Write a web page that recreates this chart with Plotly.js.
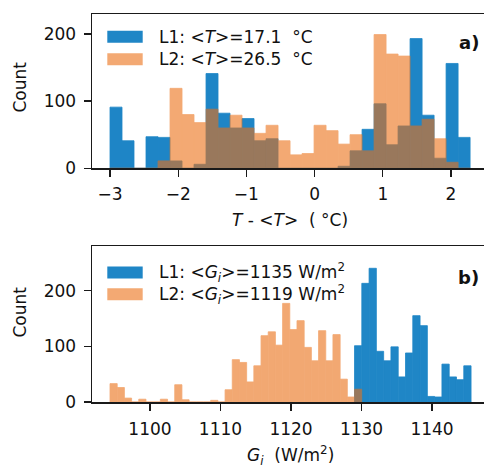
<!DOCTYPE html>
<html>
<head>
<meta charset="utf-8">
<script src="https://cdn.plot.ly/plotly-3.0.1.min.js"></script>
<style>html,body{margin:0;padding:0;background:#fff;}#chart{width:484px;height:467px;}</style>
</head>
<body>
<div id="chart"></div>
<script>
// ---- Panel a): temperature deviation histograms ----
const tBinCenters = [-2.912, -2.736, -2.560, -2.384, -2.208, -2.032, -1.856, -1.680, -1.504, -1.328,
                     -1.152, -0.976, -0.800, -0.624, -0.448, -0.272, -0.096, 0.080, 0.256, 0.432,
                     0.608, 0.784, 0.960, 1.136, 1.312, 1.488, 1.664, 1.840, 2.016, 2.192];
const tCountsL1 = [91, 41, 0, 47, 46, 11, 0, 6, 141, 82,
                   60, 74, 41, 44, 0, 0, 0, 0, 0, 3,
                   26, 58, 96, 35, 63, 193, 79, 15, 156, 46];
const tCountsL2 = [0, 0, 0, 0, 11, 119, 80, 68, 88, 60,
                   79, 60, 52, 64, 41, 20, 22, 64, 56, 36,
                   50, 26, 199, 170, 167, 63, 73, 44, 9, 0];
const tTicks = [-3, -2, -1, 0, 1, 2];

// ---- Panel b): irradiance histograms ----
const gBinCentersL1 = [1129.5238, 1130.5568, 1131.5898, 1132.6228, 1133.6558, 1134.6888, 1135.7218, 1136.7548,
                       1137.7878, 1138.8208, 1139.8538, 1140.8868, 1141.9198, 1142.9528, 1143.9858, 1145.0188];
const gCountsL1 = [101, 213, 240, 91, 74, 99, 45, 88, 155, 137, 10, 9, 68, 45, 40, 65];
const gBinCentersL2 = [1094.8440, 1095.8638, 1096.8836, 1097.9034, 1098.9232, 1099.9430, 1100.9628, 1101.9826,
                       1103.0024, 1104.0222, 1105.0420, 1106.0618, 1107.0816, 1108.1014, 1109.1212, 1110.1410,
                       1111.1608, 1112.1806, 1113.2004, 1114.2202, 1115.2400, 1116.2598, 1117.2796, 1118.2994,
                       1119.3192, 1120.3390, 1121.3588, 1122.3786, 1123.3984, 1124.4182, 1125.4380, 1126.4578,
                       1127.4776, 1128.4974, 1129.5172];
const gCountsL2 = [33, 26, 7, 0, 5, 0, 0, 5, 0, 31, 4, 0, 0, 0, 3, 0, 22, 76, 71, 36,
                   65, 119, 126, 102, 177, 130, 146, 98, 74, 128, 74, 121, 41, 9, 23];
const gTicks = [1100, 1110, 1120, 1130, 1140];
const countTicks = [0, 100, 200];

const legendA = ['L1: &lt;<i>T</i>&gt;=17.1\u00a0 \u00b0C', 'L2: &lt;<i>T</i>&gt;=26.5\u00a0 \u00b0C'];
const legendB = ['L1: &lt;<i>G</i><sub><i>i</i></sub>&gt;=1135 W/m<sup>2</sup>',
                 'L2: &lt;<i>G</i><sub><i>i</i></sub>&gt;=1119 W/m<sup>2</sup>'];

const BLUE = '#1f86c6';
const ORANGE_SOLID = 'rgb(235,112,22)';
const ORANGE_ALPHA = 0.6;
const ORANGE = 'rgba(235,112,22,0.6)';
const FONT = 'DejaVu Sans';

const traces = [
  {type: 'bar', x: tBinCenters, y: tCountsL1, width: 0.176, xaxis: 'x', yaxis: 'y',
   marker: {color: BLUE, line: {width: 0.8, color: BLUE}}, showlegend: false, hoverinfo: 'skip'},
  {type: 'bar', x: tBinCenters, y: tCountsL2, width: 0.176, xaxis: 'x', yaxis: 'y',
   opacity: ORANGE_ALPHA,
   marker: {color: ORANGE_SOLID, line: {width: 0.8, color: ORANGE_SOLID}}, showlegend: false, hoverinfo: 'skip'},
  {type: 'bar', x: gBinCentersL1, y: gCountsL1, width: 1.033, xaxis: 'x2', yaxis: 'y2',
   marker: {color: BLUE, line: {width: 0.8, color: BLUE}}, showlegend: false, hoverinfo: 'skip'},
  {type: 'bar', x: gBinCentersL2, y: gCountsL2, width: 1.0198, xaxis: 'x2', yaxis: 'y2',
   opacity: ORANGE_ALPHA,
   marker: {color: ORANGE_SOLID, line: {width: 0.8, color: ORANGE_SOLID}}, showlegend: false, hoverinfo: 'skip'}
];

const axisCommon = {
  showline: true, linecolor: '#1a1a1a', linewidth: 1.5,
  ticks: 'outside', ticklen: 7, tickwidth: 1.4, tickcolor: '#1a1a1a',
  showgrid: false, zeroline: false,
  tickfont: {family: FONT, size: 17, color: '#111'}
};

// pixel -> paper helpers for annotation/legend placement
const PT = 14, PB = 402, PL = 92, PR = 484;
const py = p => (PB - p) / (PB - PT);
const px = p => (p - PL) / (PR - PL);

const shapes = [];
const annotations = [];
function legendRow(yc, color, text) {
  shapes.push({type: 'rect', xref: 'paper', yref: 'paper', x0: px(107.3), x1: px(142.7),
               y0: py(yc - 6), y1: py(yc + 6), fillcolor: color, line: {width: 0}});
  annotations.push({xref: 'paper', yref: 'paper', x: px(156.5), y: py(yc), xanchor: 'left',
                    yanchor: 'middle', text: text, showarrow: false,
                    font: {family: FONT, size: 17, color: '#111'}});
}
legendRow(36.7, BLUE, legendA[0]);
legendRow(59.2, ORANGE, legendA[1]);
legendRow(272.5, BLUE, legendB[0]);
legendRow(294.2, ORANGE, legendB[1]);

annotations.push(
  {xref: 'paper', yref: 'paper', x: px(481), y: py(43), xanchor: 'right', yanchor: 'middle',
   text: '<b>a)</b>', showarrow: false, font: {family: FONT, size: 18, color: '#111'}},
  {xref: 'paper', yref: 'paper', x: px(481), y: py(277), xanchor: 'right', yanchor: 'middle',
   text: '<b>b)</b>', showarrow: false, font: {family: FONT, size: 18, color: '#111'}},
  {xref: 'paper', yref: 'paper', x: px(19), y: py(87.5), xanchor: 'center', yanchor: 'middle',
   text: 'Count', textangle: -90, showarrow: false, font: {family: FONT, size: 17, color: '#111'}},
  {xref: 'paper', yref: 'paper', x: px(19), y: py(312.5), xanchor: 'center', yanchor: 'middle',
   text: 'Count', textangle: -90, showarrow: false, font: {family: FONT, size: 17, color: '#111'}},
  {xref: 'paper', yref: 'paper', x: px(290), y: py(220), xanchor: 'center', yanchor: 'middle',
   text: '<i>T</i> - &lt;<i>T</i>&gt;\u00a0 (\u00a0\u00b0C)', showarrow: false,
   font: {family: FONT, size: 17, color: '#111'}},
  {xref: 'paper', yref: 'paper', x: px(290), y: py(455), xanchor: 'center', yanchor: 'middle',
   text: '<i>G</i><sub><i>i</i></sub>\u00a0 (W/m<sup>2</sup>)', showarrow: false,
   font: {family: FONT, size: 17, color: '#111'}}
);

const layout = {
  width: 484, height: 467,
  margin: {l: PL, r: 0, t: PT, b: 467 - PB},
  paper_bgcolor: '#fff', plot_bgcolor: '#fff',
  barmode: 'overlay', bargap: 0, bargroupgap: 0, showlegend: false,
  font: {family: FONT, size: 17, color: '#111'},
  xaxis: Object.assign({}, axisCommon, {anchor: 'y', domain: [0, 1], range: [-3.264, 2.484],
                        tickvals: tTicks, mirror: true, ticklabelstandoff: 3}),
  yaxis: Object.assign({}, axisCommon, {anchor: 'x', domain: [py(168.3), 1], range: [0, 229.6],
                        tickvals: countTicks, ticklabelstandoff: 4}),
  xaxis2: Object.assign({}, axisCommon, {anchor: 'y2', domain: [0, 1], range: [1091.78, 1147.37],
                         tickvals: gTicks, mirror: true, ticklabelstandoff: 4}),
  yaxis2: Object.assign({}, axisCommon, {anchor: 'x2', domain: [0, py(246)], range: [0, 280],
                         tickvals: countTicks, ticklabelstandoff: 4}),
  shapes: shapes,
  annotations: annotations
};

Plotly.newPlot('chart', traces, layout, {displayModeBar: false, staticPlot: true});
</script>
</body>
</html>
